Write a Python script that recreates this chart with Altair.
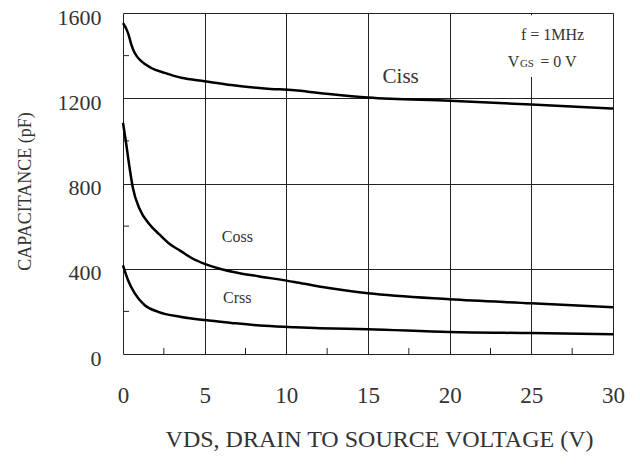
import altair as alt
import pandas as pd

# Data
vds_ciss = [0, 0.31, 0.51, 0.72, 1.12, 1.73, 2.55, 3.57, 5, 6.63, 8.67, 10.5, 12, 15, 20, 25, 30]
ciss = [1553, 1506, 1452, 1412, 1374, 1342, 1319, 1296, 1280, 1262, 1246, 1237, 1225, 1203, 1188, 1171, 1152]

vds_coss = [0, 0.2, 0.4, 0.6, 1.02, 1.63, 2.24, 2.86, 3.47, 4.28, 5, 5.92, 7.14, 8.27, 10.5, 12, 15, 20, 25, 30]
coss = [1085, 984, 875, 781, 680, 608, 560, 516, 486, 447, 423, 400, 379, 365, 338, 317, 285, 257, 238, 219]

vds_crss = [0, 0.31, 0.72, 1.33, 2.15, 3.57, 5, 6.63, 8.67, 10.5, 12, 15, 20, 25, 30]
crss = [416, 346, 284, 229, 198, 174, 159, 146, 132, 125, 121, 116, 103, 98, 93]

x_ticks = [0, 5, 10, 15, 20, 25, 30]
y_ticks = [0, 400, 800, 1200, 1600]
x_minor = [2.5, 7.5, 12.5, 17.5, 22.5, 27.5]
y_minor = [200, 600, 1000, 1400]

labels = ["Ciss", "Coss", "Crss"]
label_x = [17, 7, 7]
label_y = [1301, 550, 261]

FONT = "Liberation Serif"
TXT = "#333333"

rows = []
for s, xs, ys in [("Ciss", vds_ciss, ciss), ("Coss", vds_coss, coss), ("Crss", vds_crss, crss)]:
    for a, b in zip(xs, ys):
        rows.append({"series": s, "vds": a, "c": b})
df = pd.DataFrame(rows)

xscale = alt.Scale(domain=[0, 30], nice=False, zero=False)
yscale = alt.Scale(domain=[0, 1600], nice=False)

xaxis = alt.Axis(values=x_ticks, format="d", grid=True, gridColor="#222222", gridWidth=1,
                 ticks=False, domain=False, labelFont=FONT, labelFontSize=23, labelFlush=False,
                 labelColor=TXT, labelPadding=30, title="VDS, DRAIN TO SOURCE VOLTAGE (V)",
                 titleFont=FONT, titleFontSize=24, titleFontWeight="normal",
                 titleColor=TXT, titlePadding=20, titleX=256)
yaxis = alt.Axis(values=y_ticks, format="d", grid=True, gridColor="#222222", gridWidth=1,
                 ticks=False, domain=False, labelFont=FONT, labelFontSize=22,
                 labelColor=TXT, labelPadding=22, labelOffset=4, title="CAPACITANCE (pF)",
                 titleFont=FONT, titleFontSize=18, titleFontWeight="normal",
                 titleColor=TXT, titleAngle=270, titleAlign="center", titleBaseline="middle",
                 titleX=-98, titleY=178)

lines = alt.Chart(df).mark_line(color="black", strokeWidth=2.5, interpolate="monotone").encode(
    x=alt.X("vds:Q", scale=xscale, axis=xaxis),
    y=alt.Y("c:Q", scale=yscale, axis=yaxis),
    detail="series:N",
)

# white box behind condition text
box = alt.Chart(pd.DataFrame({"x": [23.3], "x2": [28.8], "y": [1300], "y2": [1590]})).mark_rect(
    color="white").encode(x=alt.X("x:Q", scale=xscale), x2="x2:Q",
                          y=alt.Y("y:Q", scale=yscale), y2="y2:Q")

xm = alt.Chart(pd.DataFrame({"x": x_minor, "y0": [0] * len(x_minor), "y1": [28] * len(x_minor)})).mark_rule(
    color="#222222", strokeWidth=1).encode(x=alt.X("x:Q", scale=xscale), y=alt.Y("y0:Q", scale=yscale), y2="y1:Q")
ym = alt.Chart(pd.DataFrame({"y": y_minor, "x0": [0] * len(y_minor), "x1": [0.37] * len(y_minor)})).mark_rule(
    color="#222222", strokeWidth=1).encode(y=alt.Y("y:Q", scale=yscale), x=alt.X("x0:Q", scale=xscale), x2="x1:Q")

lab_df = pd.DataFrame({"t": labels, "x": label_x, "y": label_y,
                       "s": [21, 16, 16]})
lab = alt.Chart(lab_df).mark_text(font=FONT, color=TXT, baseline="middle").encode(
    x=alt.X("x:Q", scale=xscale), y=alt.Y("y:Q", scale=yscale), text="t:N",
    size=alt.Size("s:Q", scale=None, legend=None))

cond = alt.Chart(pd.DataFrame({"t": ["f = 1MHz"], "x": [26.3], "y": [1497]})).mark_text(
    font=FONT, fontSize=16, color=TXT, baseline="middle").encode(
    x=alt.X("x:Q", scale=xscale), y=alt.Y("y:Q", scale=yscale), text="t:N")
vgs_df = pd.DataFrame({"t": ["V", "GS", "= 0 V"], "x": [23.55, 24.3, 25.55],
                       "y": [1371, 1362, 1371], "s": [16, 11, 16]})
vgs = alt.Chart(vgs_df).mark_text(font=FONT, color=TXT, baseline="middle", align="left").encode(
    x=alt.X("x:Q", scale=xscale), y=alt.Y("y:Q", scale=yscale), text="t:N",
    size=alt.Size("s:Q", scale=None, legend=None))

chart = alt.layer(box, xm, ym, lines, lab, cond, vgs).properties(
    width=490, height=341,
    autosize=alt.AutoSizeParams(type="none"),
    padding={"left": 115, "top": 5, "right": 19, "bottom": 102},
).configure_view(stroke="black", strokeWidth=1.5).configure(background="white")

chart.save("out.html", embed_options={"renderer": "svg", "actions": False})
